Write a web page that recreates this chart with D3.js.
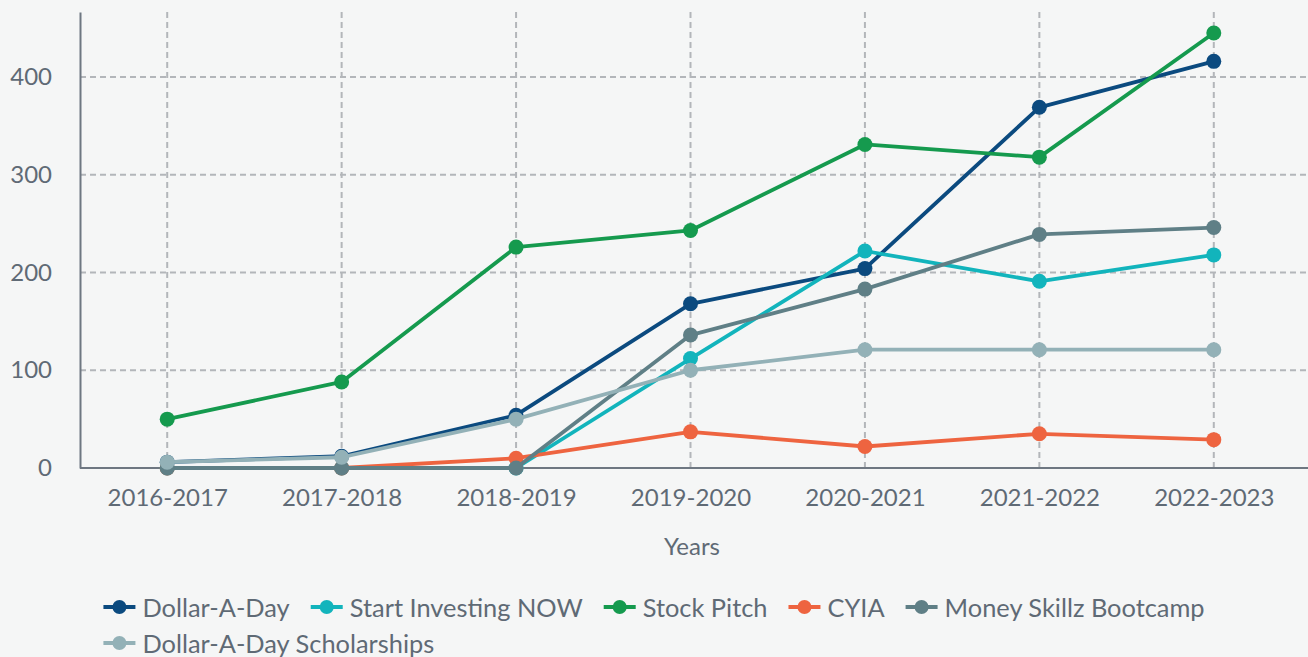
<!DOCTYPE html>
<html>
<head>
<meta charset="utf-8">
<script src="https://cdn.jsdelivr.net/npm/d3@7"></script>
<style>
  body { margin: 0; background: #f5f6f6; }
  svg { display: block; font-family: Lato, "Open Sans", sans-serif; }
</style>
</head>
<body>
<svg id="svg1"></svg>
<script>
var years = ["2016-2017", "2017-2018", "2018-2019", "2019-2020", "2020-2021", "2021-2022", "2022-2023"]
var yTicks = [0, 100, 200, 300, 400]

var seriesNames = ["Dollar-A-Day", "Start Investing NOW", "Stock Pitch", "CYIA", "Money Skillz Bootcamp", "Dollar-A-Day Scholarships"]
var seriesColors = ["#0b4a7f", "#12b4bc", "#159a4e", "#ee6440", "#5f7f86", "#93b1b7"]

var dollarADay = [6, 12, 54, 168, 204, 369, 416]
var startInvesting = [0, 0, 0, 112, 222, 191, 218]
var stockPitch = [50, 88, 226, 243, 331, 318, 445]
var cyia = [0, 0, 10, 37, 22, 35, 29]
var moneySkillz = [0, 0, 0, 136, 183, 239, 246]
var scholarships = [6, 11, 50, 100, 121, 121, 121]

var allValues = [dollarADay, startInvesting, stockPitch, cyia, moneySkillz, scholarships]

var W = 1308, H = 657
var svg = d3.select("#svg1").attr("width", W).attr("height", H)

svg.append("rect").attr("width", W).attr("height", H).attr("fill", "#f5f6f6")

var plotL = 80, plotR = 1301, plotT = 12, plotB = 468
var fontSz = "24px"
var textColor = "#5f6a75"

var x = d3.scalePoint().domain(years).range([plotL, plotR]).padding(0.5)
var y = d3.scaleLinear().domain([0, 466.5]).range([plotB, plotT])

var gridColor = "#b3b6ba"

// horizontal grid
svg.append("g").selectAll("line")
  .data(yTicks.filter(d => d > 0))
  .enter().append("line")
  .attr("x1", plotL).attr("x2", W)
  .attr("y1", d => y(d)).attr("y2", d => y(d))
  .style("stroke", gridColor).style("stroke-width", 2)
  .style("stroke-dasharray", "6,4")

// vertical grid
svg.append("g").selectAll("line")
  .data(years)
  .enter().append("line")
  .attr("x1", d => x(d)).attr("x2", d => x(d))
  .attr("y1", plotT).attr("y2", plotB)
  .style("stroke", gridColor).style("stroke-width", 2)
  .style("stroke-dasharray", "6,4")

// y axis
var yAxis = svg.append("g")
  .attr("transform", `translate(${plotL},0)`)
  .call(d3.axisLeft(y).tickValues(yTicks).tickSize(0).tickPadding(28))
yAxis.select(".domain").style("stroke", "#6e7781").style("stroke-width", 2)
yAxis.selectAll("text").style("font-size", fontSz).style("fill", textColor)
  .style("font-family", "Lato, sans-serif")

// x axis
var xAxis = svg.append("g")
  .attr("transform", `translate(0,${plotB})`)
  .call(d3.axisBottom(x).tickSize(0).tickPadding(21))
xAxis.select(".domain").remove()
xAxis.selectAll("text").style("font-size", fontSz).style("fill", textColor)
  .style("font-family", "Lato, sans-serif")
svg.append("line")
  .attr("x1", plotL).attr("x2", W).attr("y1", plotB).attr("y2", plotB)
  .style("stroke", "#6e7781").style("stroke-width", 2)

svg.append("text")
  .attr("x", 692).attr("y", 555)
  .attr("text-anchor", "middle")
  .style("font-size", fontSz).style("fill", textColor)
  .text("Years")

// lines + points
var line = d3.line().x((d, i) => x(years[i])).y(d => y(d))

allValues.forEach(function(vals, s) {
  var g = svg.append("g")
  g.append("path")
    .datum(vals)
    .attr("d", line)
    .style("fill", "none")
    .style("stroke", seriesColors[s])
    .style("stroke-width", 3.8)
    .style("stroke-linejoin", "round")
  g.selectAll("circle")
    .data(vals)
    .enter().append("circle")
    .attr("cx", (d, i) => x(years[i]))
    .attr("cy", d => y(d))
    .attr("r", 7.5)
    .style("fill", seriesColors[s])
})

// legend
var leg = svg.append("g")
var rows = [[0, 1, 2, 3, 4], [5]]
var rowY = [607, 643]
var markerW = 32, textGap = 7, itemGap = 21

var items = []
seriesNames.forEach(function(name, i) {
  var t = leg.append("text").text(name)
    .style("font-size", "25.4px").style("fill", textColor)
    .attr("dominant-baseline", "central")
  items.push({ t: t, w: t.node().getComputedTextLength() })
})

var row0W = rows[0].reduce((a, i) => a + markerW + textGap + items[i].w, 0) + itemGap * (rows[0].length - 1)
var startX = (W - row0W) / 2

rows.forEach(function(r, ri) {
  var cx = startX
  r.forEach(function(i) {
    leg.append("line")
      .attr("x1", cx).attr("x2", cx + markerW)
      .attr("y1", rowY[ri]).attr("y2", rowY[ri])
      .style("stroke", seriesColors[i]).style("stroke-width", 3.8)
    leg.append("circle")
      .attr("cx", cx + markerW / 2).attr("cy", rowY[ri]).attr("r", 7)
      .style("fill", seriesColors[i])
    items[i].t.attr("x", cx + markerW + textGap).attr("y", rowY[ri])
    cx += markerW + textGap + items[i].w + itemGap
  })
})
</script>
</body>
</html>
